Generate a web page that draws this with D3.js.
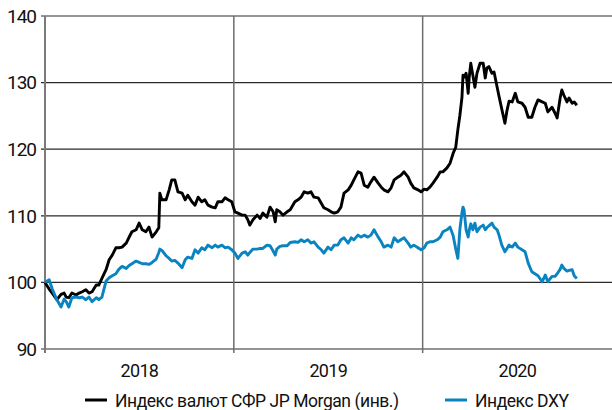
<!DOCTYPE html>
<html><head><meta charset="utf-8">
<script src="https://cdn.jsdelivr.net/npm/d3@7"></script>
<style>html,body{margin:0;padding:0;background:#fff}svg{display:block}text{font-family:Roboto,"Open Sans",sans-serif;fill:#111}</style>
</head><body>
<svg id="c" width="612" height="410"></svg>
<script>
const dates = ["2018-01-01","2018-01-09","2018-01-15","2018-01-24","2018-02-01","2018-02-07","2018-02-11","2018-02-16","2018-02-22","2018-03-02","2018-03-08","2018-03-14","2018-03-21","2018-03-27","2018-04-02","2018-04-10","2018-04-15","2018-04-21","2018-04-29","2018-05-05","2018-05-11","2018-05-18","2018-05-24","2018-05-30","2018-06-07","2018-06-12","2018-06-18","2018-06-26","2018-07-02","2018-07-08","2018-07-15","2018-07-21","2018-07-27","2018-08-04","2018-08-09","2018-08-11","2018-08-15","2018-08-23","2018-08-29","2018-09-03","2018-09-09","2018-09-15","2018-09-23","2018-09-29","2018-10-04","2018-10-12","2018-10-18","2018-10-24","2018-10-31","2018-11-06","2018-11-12","2018-11-20","2018-11-26","2018-12-01","2018-12-09","2018-12-15","2018-12-21","2018-12-28","2019-01-03","2019-01-09","2019-01-17","2019-01-23","2019-01-28","2019-02-01","2019-02-07","2019-02-15","2019-02-21","2019-02-26","2019-03-06","2019-03-12","2019-03-18","2019-03-22","2019-03-25","2019-03-31","2019-04-06","2019-04-14","2019-04-20","2019-04-29","2019-05-05","2019-05-11","2019-05-17","2019-05-24","2019-05-30","2019-06-05","2019-06-13","2019-06-19","2019-06-24","2019-07-02","2019-07-08","2019-07-14","2019-07-21","2019-07-27","2019-08-02","2019-08-10","2019-08-16","2019-08-21","2019-08-29","2019-09-04","2019-09-10","2019-09-17","2019-09-23","2019-09-29","2019-10-07","2019-10-13","2019-10-18","2019-10-26","2019-11-01","2019-11-07","2019-11-14","2019-11-20","2019-11-26","2019-12-04","2019-12-09","2019-12-15","2019-12-23","2019-12-29","2020-01-04","2020-01-09","2020-01-15","2020-01-21","2020-01-29","2020-02-04","2020-02-09","2020-02-17","2020-02-23","2020-02-29","2020-03-05","2020-03-09","2020-03-13","2020-03-17","2020-03-19","2020-03-21","2020-03-25","2020-03-29","2020-03-31","2020-04-03","2020-04-07","2020-04-11","2020-04-15","2020-04-21","2020-04-27","2020-05-01","2020-05-04","2020-05-08","2020-05-14","2020-05-18","2020-05-24","2020-05-28","2020-06-02","2020-06-08","2020-06-12","2020-06-16","2020-06-22","2020-06-28","2020-07-03","2020-07-11","2020-07-17","2020-07-23","2020-07-30","2020-08-05","2020-08-11","2020-08-19","2020-08-25","2020-08-30","2020-09-07","2020-09-13","2020-09-17","2020-09-23","2020-09-26","2020-09-30","2020-10-06","2020-10-10","2020-10-16","2020-10-20","2020-10-25"];

const jpmValues = [100.0,99.0,98.4,97.4,98.2,98.4,97.8,97.7,98.4,98.1,98.4,98.6,98.9,98.4,98.6,99.6,99.6,100.6,101.9,103.4,104.1,105.2,105.2,105.3,105.9,106.7,107.6,107.9,108.9,107.9,107.6,108.3,106.8,107.6,108.2,113.4,112.4,112.4,113.9,115.4,115.4,113.6,113.4,112.4,113.1,112.1,111.6,112.8,112.1,112.4,111.6,111.3,111.2,112.1,112.1,112.7,112.4,112.1,110.6,110.4,110.1,110.1,109.4,108.6,109.4,110.1,109.6,110.4,109.8,111.3,110.6,109.1,110.9,110.6,110.1,110.6,110.9,112.1,112.4,112.8,113.6,113.4,113.6,112.8,112.7,111.9,111.2,110.9,110.6,110.4,110.6,111.3,113.4,113.9,114.6,115.4,116.6,116.4,114.6,114.3,115.1,115.8,114.9,114.3,113.9,113.6,114.2,115.4,115.8,116.1,116.6,115.8,114.9,114.2,113.9,113.6,114.0,113.9,114.3,114.9,115.8,116.6,116.6,117.2,117.9,119.4,120.3,122.9,125.1,127.8,131.1,130.8,131.4,128.4,130.8,132.9,131.1,129.3,131.4,132.9,132.9,130.7,132.2,132.4,131.4,131.6,129.3,127.8,126.0,123.9,125.8,127.2,127.1,128.4,127.1,126.9,126.3,124.8,124.8,126.3,127.4,127.1,126.9,125.6,126.3,125.4,124.7,127.8,128.9,128.1,127.1,127.7,126.9,127.1,126.6];

const dxyValues = [100.0,100.4,99.0,97.4,96.3,97.5,97.1,96.3,97.7,97.8,97.7,97.8,97.4,97.8,97.1,97.7,97.4,97.8,100.2,100.7,101.0,101.3,102.0,102.4,102.1,102.5,102.8,103.2,103.0,102.8,102.8,102.7,103.0,103.5,104.5,105.0,104.8,104.0,103.6,103.2,103.3,102.9,102.2,103.4,103.8,103.6,104.9,104.4,105.2,104.9,105.6,105.2,105.6,105.3,105.6,105.2,105.3,104.9,104.4,103.6,104.4,104.6,104.1,104.5,105.0,105.0,105.1,105.1,105.6,105.5,104.7,104.1,105.0,105.4,105.5,105.5,106.0,106.1,106.0,106.4,106.1,106.4,105.9,106.1,105.3,104.9,104.4,105.3,104.9,105.6,105.6,106.4,106.7,105.9,106.7,106.4,107.1,106.8,107.1,106.8,107.1,107.9,106.8,106.1,105.3,105.6,105.3,106.7,106.1,106.4,106.7,105.9,105.3,105.6,105.2,104.9,105.2,105.9,106.1,106.1,106.4,106.8,107.6,107.9,108.3,107.0,105.0,103.6,108.0,110.5,111.3,110.9,107.9,106.8,107.8,108.8,107.9,108.9,107.6,108.3,108.6,107.9,108.2,108.5,108.9,108.3,107.9,107.0,105.6,104.6,105.1,105.6,105.3,105.9,105.3,104.9,104.6,102.9,101.6,101.3,101.0,100.1,101.1,100.1,100.9,100.9,101.3,102.0,102.6,102.1,101.7,101.8,101.9,101.0,100.6];

const yTicks = [90,100,110,120,130,140];
const yearLabels = ["2018","2019","2020"];
const yearBounds = ["2018-01-01","2019-01-01","2020-01-01","2021-01-01"];
const seriesNames = ["Индекс валют СФР JP Morgan (инв.)","Индекс DXY"];
const seriesColors = ["#000000","#0a84c1"];

const parse = d3.timeParse("%Y-%m-%d");
const svg = d3.select("#c");
const x = d3.scaleTime().domain([parse(yearBounds[0]), parse(yearBounds[3])]).range([45, 612]);
const y = d3.scaleLinear().domain([90,140]).range([349,16]);

svg.append("g").selectAll("line").data(yTicks).join("line")
  .attr("x1",41).attr("x2",612).attr("y1",d=>y(d)).attr("y2",d=>y(d))
  .attr("stroke","#2a2a2a").attr("stroke-width",1.2);
svg.append("g").selectAll("line").data(yearBounds.slice(1,3)).join("line")
  .attr("x1",d=>x(parse(d))).attr("x2",d=>x(parse(d))).attr("y1",16).attr("y2",353)
  .attr("stroke","#6e6e6e").attr("stroke-width",1.5);
svg.append("line").attr("x1",45).attr("x2",45).attr("y1",16).attr("y2",353)
  .attr("stroke","#7a7a7a").attr("stroke-width",2);
svg.append("g").selectAll("text").data(yTicks).join("text")
  .attr("x",36).attr("y",d=>y(d)).attr("dy","0.36em").attr("text-anchor","end")
  .attr("font-size",19).attr("letter-spacing","-1px").text(d=>d);
svg.append("g").selectAll("text").data(yearLabels).join("text")
  .attr("x",(d,i)=>(x(parse(yearBounds[i]))+x(parse(yearBounds[i+1])))/2)
  .attr("y",377).attr("text-anchor","middle").attr("font-size",18).attr("letter-spacing","-0.7px").text(d=>d);

const line = d3.line().x(d=>x(d[0])).y(d=>y(d[1])).curve(d3.curveLinear);
const pd = dates.map(parse);
[jpmValues, dxyValues].forEach((vals,i)=>{
  svg.append("path").datum(pd.map((d,j)=>[d,vals[j]]))
    .attr("fill","none").attr("stroke",seriesColors[i]).attr("stroke-width",2.9)
    .attr("stroke-linejoin","round").attr("d",line);
});

const legX = [85, 445];
const lg = svg.append("g");
seriesNames.forEach((n,i)=>{
  lg.append("line").attr("x1",legX[i]).attr("x2",legX[i]+22).attr("y1",400).attr("y2",400)
    .attr("stroke",seriesColors[i]).attr("stroke-width",3);
  lg.append("text").attr("x",legX[i]+30).attr("y",407).attr("font-size",17.5).attr("letter-spacing","-0.45px").text(n);
});
</script>
</body></html>
